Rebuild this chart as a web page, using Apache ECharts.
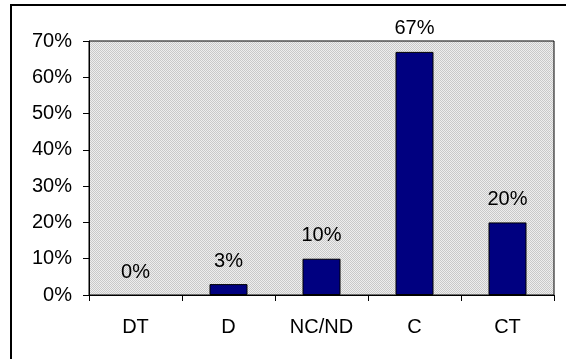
<!DOCTYPE html>
<html>
<head>
<meta charset="utf-8">
<script src="https://cdn.jsdelivr.net/npm/echarts@6/dist/echarts.min.js"></script>
<style>
  html, body { margin: 0; padding: 0; background: #fff; }
  #chart { width: 566px; height: 359px; }
</style>
</head>
<body>
<div id="chart"></div>
<script>
// Response categories and the share of answers in each (percent)
const categories = ['DT', 'D', 'NC/ND', 'C', 'CT'];
const shares = [0, 3, 10, 67, 20];
const yTicks = { min: 0, max: 70, interval: 10 };

// Dotted grey fill for the plot area
function dotPattern() {
  const c = document.createElement('canvas');
  c.width = 2; c.height = 2;
  const g = c.getContext('2d');
  g.fillStyle = '#eeeeee'; g.fillRect(0, 0, 2, 2);
  g.fillStyle = '#c9c9c9'; g.fillRect(0, 0, 1, 1); g.fillRect(1, 1, 1, 1);
  return c;
}

const font = 'Liberation Sans, Arial, sans-serif';
const chart = echarts.init(document.getElementById('chart'), null, { renderer: 'canvas' });

// Empty bars get no outline so nothing is drawn on the baseline
const barData = shares.map(v => v === 0
  ? { value: v, itemStyle: { borderWidth: 0 } }
  : v);

chart.setOption({
  animation: false,
  textStyle: { fontFamily: font },
  graphic: [{
    type: 'rect',
    shape: { x: 11, y: 5, width: 700, height: 500 },
    style: { fill: 'none', stroke: '#000', lineWidth: 2 },
    silent: true,
    z: 100
  }],
  grid: {
    left: 89, top: 41, right: 12, bottom: 64,
    show: true,
    backgroundColor: { image: dotPattern(), repeat: 'repeat' },
    borderColor: '#000',
    borderWidth: 1
  },
  xAxis: {
    type: 'category',
    data: categories,
    axisLine: { lineStyle: { color: '#000', width: 1 } },
    axisTick: { show: true, length: 6, lineStyle: { color: '#000' } },
    axisLabel: { color: '#000', fontSize: 20, fontFamily: font, margin: 22 }
  },
  yAxis: {
    type: 'value',
    min: yTicks.min, max: yTicks.max, interval: yTicks.interval,
    axisLine: { show: true, lineStyle: { color: '#000', width: 1 } },
    axisTick: { show: true, length: 6, lineStyle: { color: '#000' } },
    splitLine: { show: false },
    axisLabel: { color: '#000', fontSize: 20, fontFamily: font, margin: 17, formatter: '{value}%' }
  },
  series: [{
    type: 'bar',
    data: barData,
    barWidth: 38,
    itemStyle: { color: '#000080', borderColor: '#000', borderWidth: 1 },
    label: {
      show: true,
      position: 'top',
      distance: 13,
      color: '#000',
      fontSize: 20,
      fontFamily: font,
      formatter: p => p.value + '%'
    }
  }]
});
</script>
</body>
</html>
